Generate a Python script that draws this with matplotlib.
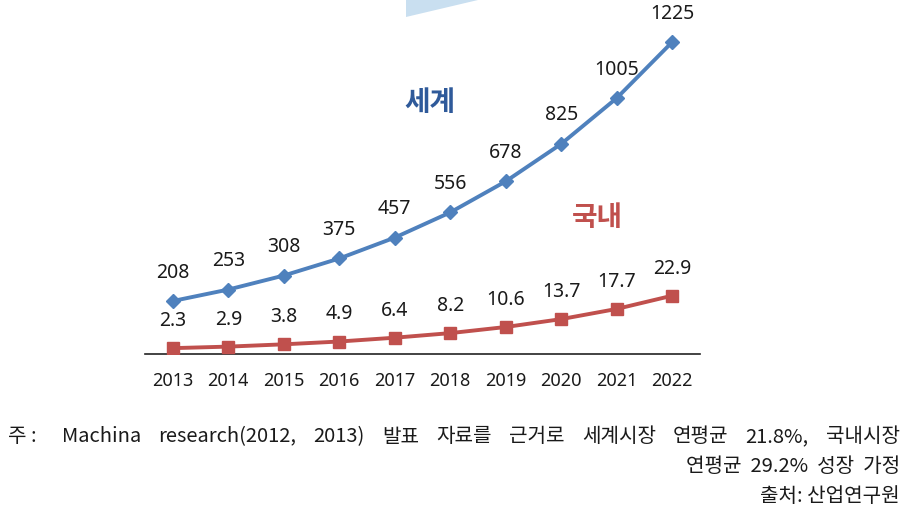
import matplotlib
matplotlib.use("Agg")
import matplotlib.pyplot as plt
from matplotlib.patches import Polygon

plt.rcParams['font.family'] = ['Noto Sans', 'Noto Sans CJK KR', 'DejaVu Sans']

years = ['2013', '2014', '2015', '2016', '2017', '2018', '2019', '2020', '2021', '2022']
world = [208, 253, 308, 375, 457, 556, 678, 825, 1005, 1225]
korea = [2.3, 2.9, 3.8, 4.9, 6.4, 8.2, 10.6, 13.7, 17.7, 22.9]
world_labels = ['208', '253', '308', '375', '457', '556', '678', '825', '1005', '1225']
korea_labels = ['2.3', '2.9', '3.8', '4.9', '6.4', '8.2', '10.6', '13.7', '17.7', '22.9']

W, H = 907, 515
fig = plt.figure(figsize=(W / 100, H / 100), dpi=100)
fig.patch.set_facecolor('white')

ax = fig.add_axes([145 / W, (H - 354) / H, (700 - 145) / W, 354 / H])
ax2 = ax.twinx()

x = list(range(len(years)))
blue = '#4f81bd'
red = '#c0504d'

ax.plot(x, world, color=blue, lw=2.8, marker='D', ms=7.5, mfc=blue, mec=blue, zorder=3)
ax2.plot(x, korea, color=red, lw=2.8, marker='s', ms=9, mfc=red, mec=red, zorder=3)

ax.set_ylim(0, 1390)
ax2.set_ylim(0, 139)
ax.set_xlim(-0.5, len(years) - 0.5)

for xi, v, lab in zip(x, world, world_labels):
    ax.annotate(lab, (xi, v), xytext=(0, 20.5), textcoords='offset points',
                ha='center', va='center', fontsize=14, color='#1a1a1a')
for xi, v, lab in zip(x, korea, korea_labels):
    ax2.annotate(lab, (xi, v), xytext=(0, 19.5), textcoords='offset points',
                 ha='center', va='center', fontsize=14, color='#1a1a1a')

for a in (ax, ax2):
    for s in ['top', 'right', 'left']:
        a.spines[s].set_visible(False)
    a.set_yticks([])
ax2.spines['bottom'].set_visible(False)
ax.spines['bottom'].set_color('#222222')
ax.spines['bottom'].set_linewidth(1.2)

ax.set_xticks(x)
ax.set_xticklabels(years, fontsize=13, color='#1a1a1a')
ax.tick_params(axis='x', length=0, pad=13)

fig.text(430 / W, 1 - 103 / H, '세계', fontsize=20, fontweight='bold', color='#2f5a9a',
         ha='center', va='center', family=['Noto Sans CJK KR'])
fig.text(597 / W, 1 - 218 / H, '국내', fontsize=20, fontweight='bold', color='#c0504d',
         ha='center', va='center', family=['Noto Sans CJK KR'])

poly = Polygon([[406 / W, 1.0], [406 / W, 1 - 17 / H], [478 / W, 1.0]], closed=True,
               transform=fig.transFigure, facecolor='#c9dff0', edgecolor='none')
fig.patches.append(poly)

fn = ['Noto Sans CJK KR', 'DejaVu Sans']
fs = 14.5
col = '#1a1a1a'
fig.text(8 / W, 1 - 437 / H, '주 :', fontsize=fs, color=col, ha='left', va='center', family=fn)

line1 = 'Machina research(2012, 2013) 발표 자료를 근거로 세계시장 연평균 21.8%, 국내시장'
words = line1.split(' ')
renderer = fig.canvas.get_renderer()
texts = []
widths = []
for w in words:
    t = fig.text(0, 1 - 437 / H, w, fontsize=fs, color=col, ha='left', va='center', family=fn)
    bb = t.get_window_extent(renderer=renderer)
    texts.append(t)
    widths.append(bb.width)
x0, x1 = 62, 900
gap = (x1 - x0 - sum(widths)) / (len(words) - 1)
cx = x0
for t, wd in zip(texts, widths):
    t.set_x(cx / W)
    cx += wd + gap

fig.text(900 / W, 1 - 467 / H, '연평균  29.2%  성장  가정', fontsize=fs, color=col,
         ha='right', va='center', family=fn)
fig.text(900 / W, 1 - 497 / H, '출처: 산업연구원', fontsize=fs, color=col,
         ha='right', va='center', family=fn)

fig.savefig('out.png', dpi=100)
